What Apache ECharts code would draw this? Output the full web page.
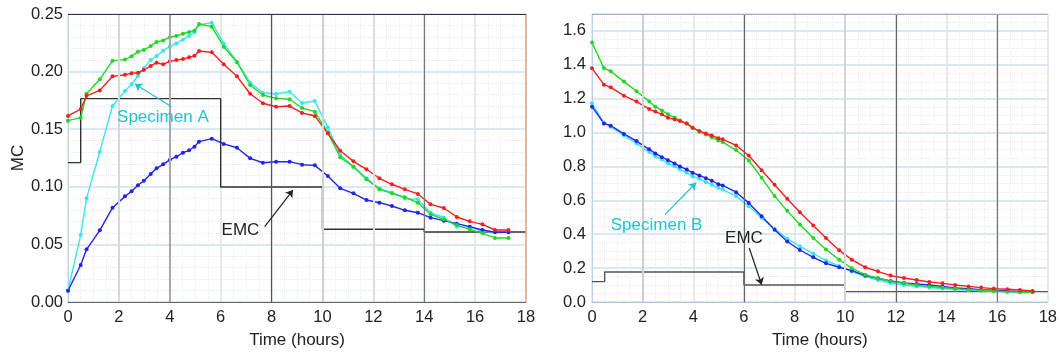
<!DOCTYPE html>
<html><head><meta charset="utf-8">
<script src="https://cdn.jsdelivr.net/npm/echarts@6/dist/echarts.min.js"></script>
<style>html,body{margin:0;padding:0;background:#fff}#c{width:1060px;height:356px}</style>
</head><body><div id="c"></div>
<script>
// ---------- Specimen A (left panel) ----------
const timeA = [0, 0.5, 0.73, 1.25, 1.75, 2.24, 2.5, 2.75, 2.98, 3.25, 3.48, 3.74, 4.0, 4.26, 4.52, 4.76, 4.97, 5.15, 5.65, 6.12, 6.64, 7.16, 7.66, 8.18, 8.71, 9.2, 9.7, 10.21, 10.7, 11.22, 11.73, 12.24, 12.73, 13.24, 13.75, 14.25, 14.77, 15.28, 15.79, 16.29, 16.78, 17.31];
const redA = [0.1615, 0.1675, 0.179, 0.1837, 0.1959, 0.1973, 0.1985, 0.199, 0.2014, 0.2049, 0.2077, 0.2063, 0.2089, 0.21, 0.2109, 0.2124, 0.2138, 0.2179, 0.2167, 0.2063, 0.1959, 0.1808, 0.1725, 0.1695, 0.1701, 0.1641, 0.1615, 0.1464, 0.1313, 0.1221, 0.1152, 0.1074, 0.1022, 0.0978, 0.0938, 0.0848, 0.0816, 0.0738, 0.07, 0.0674, 0.0625, 0.0625];
const greenA = [0.1574, 0.16, 0.1808, 0.1933, 0.2095, 0.2104, 0.2133, 0.2173, 0.2188, 0.2222, 0.2257, 0.2271, 0.2298, 0.2309, 0.2329, 0.2344, 0.2355, 0.2413, 0.239, 0.2216, 0.2081, 0.1884, 0.1797, 0.1768, 0.176, 0.1684, 0.1652, 0.147, 0.1256, 0.1175, 0.1065, 0.0978, 0.0943, 0.0909, 0.0862, 0.0761, 0.0718, 0.0668, 0.0631, 0.0596, 0.0556, 0.0556];
const cyanA = [0.01, 0.0582, 0.09, 0.1305, 0.1701, 0.1832, 0.189, 0.1962, 0.203, 0.21, 0.2135, 0.2182, 0.2216, 0.2245, 0.2277, 0.231, 0.2344, 0.2407, 0.2425, 0.2245, 0.2086, 0.1904, 0.1817, 0.1806, 0.1826, 0.1727, 0.1745, 0.1516, 0.1276, 0.1175, 0.1074, 0.0987, 0.0949, 0.0899, 0.0891, 0.0775, 0.0732, 0.0654, 0.065, 0.0613, 0.0605, 0.0605];
const blueA = [0.0098, 0.0321, 0.0457, 0.0622, 0.0819, 0.0917, 0.0961, 0.1013, 0.1053, 0.1111, 0.116, 0.1195, 0.1233, 0.1261, 0.1296, 0.1317, 0.1348, 0.1392, 0.1418, 0.1372, 0.1339, 0.1247, 0.1209, 0.1218, 0.1218, 0.1192, 0.1186, 0.1094, 0.0987, 0.0943, 0.0885, 0.0862, 0.0833, 0.0796, 0.0775, 0.0732, 0.0706, 0.068, 0.0654, 0.0625, 0.0605, 0.0605];
const emcTimeA = [0, 0.5, 6, 10, 14, 18];
const emcA = [0.121, 0.1765, 0.0998, 0.0631, 0.0608, 0.0608];

// ---------- Specimen B (right panel) ----------
const timeB = [0, 0.47, 0.74, 1.26, 1.76, 2.26, 2.5, 2.76, 3.0, 3.26, 3.47, 3.74, 3.97, 4.24, 4.5, 4.73, 4.99, 5.16, 5.69, 6.19, 6.7, 7.21, 7.71, 8.21, 8.74, 9.24, 9.76, 10.26, 10.79, 11.29, 11.79, 12.32, 12.82, 13.32, 13.84, 14.34, 14.87, 15.37, 15.87, 16.4, 16.9, 17.4];
const redB = [1.38, 1.283, 1.267, 1.218, 1.183, 1.139, 1.124, 1.108, 1.088, 1.078, 1.068, 1.053, 1.029, 1.009, 0.995, 0.983, 0.967, 0.96, 0.924, 0.865, 0.778, 0.692, 0.609, 0.53, 0.451, 0.378, 0.305, 0.25, 0.205, 0.181, 0.156, 0.142, 0.13, 0.118, 0.11, 0.1, 0.092, 0.085, 0.079, 0.075, 0.071, 0.065];
const greenB = [1.532, 1.381, 1.362, 1.301, 1.244, 1.184, 1.153, 1.131, 1.108, 1.088, 1.072, 1.054, 1.029, 1.005, 0.989, 0.973, 0.954, 0.944, 0.897, 0.835, 0.733, 0.625, 0.538, 0.457, 0.378, 0.31, 0.25, 0.199, 0.161, 0.14, 0.122, 0.11, 0.1, 0.092, 0.086, 0.079, 0.073, 0.069, 0.065, 0.061, 0.059, 0.059];
const cyanB = [1.173, 1.058, 1.035, 0.983, 0.936, 0.885, 0.861, 0.841, 0.818, 0.802, 0.782, 0.763, 0.743, 0.727, 0.707, 0.692, 0.674, 0.664, 0.625, 0.565, 0.497, 0.432, 0.374, 0.329, 0.285, 0.245, 0.212, 0.18, 0.15, 0.13, 0.112, 0.1, 0.093, 0.086, 0.08, 0.074, 0.07, 0.066, 0.063, 0.061, 0.059, 0.058];
const blueB = [1.153, 1.054, 1.041, 0.992, 0.95, 0.901, 0.877, 0.855, 0.837, 0.818, 0.8, 0.782, 0.763, 0.747, 0.731, 0.716, 0.695, 0.688, 0.648, 0.585, 0.506, 0.427, 0.357, 0.307, 0.264, 0.228, 0.205, 0.185, 0.156, 0.14, 0.124, 0.112, 0.106, 0.1, 0.092, 0.083, 0.079, 0.073, 0.069, 0.065, 0.061, 0.061];
const emcTimeB = [0, 0.5, 6, 10, 18];
const emcB = [0.12, 0.177, 0.10, 0.061, 0.061];

// ---------- labels ----------
const xTitle = 'Time (hours)';
const yTitleA = 'MC';
const labelA = 'Specimen A';
const labelB = 'Specimen B';
const labelEMC = 'EMC';

const FONT = "'Liberation Sans', Arial, sans-serif";
const TICK_FS = 16.5, TITLE_FS = 17;
const COL = {red: '#f41f1f', green: '#22d622', cyan: '#35e6ee', blue: '#2323ee', text: '#1fc4d4'};
const pairs = (t, v) => t.map((x, i) => [x, v[i]]);

function xAxisCfg(gi) {
  return {
    type: 'value', gridIndex: gi, min: 0, max: 18, interval: 2,
    name: xTitle, nameLocation: 'middle', nameGap: 30,
    nameTextStyle: {color: '#222', fontSize: TITLE_FS, fontFamily: FONT},
    axisLine: {show: true, lineStyle: {color: gi === 0 ? '#666' : '#aac4dc', width: 1}},
    axisTick: {show: false},
    axisLabel: {color: '#222', fontSize: TICK_FS, fontFamily: FONT, margin: 7},
    splitLine: {show: true, lineStyle: {color: '#e2e2e2', width: 1.5}},
    minorTick: {show: false, splitNumber: 4},
    minorSplitLine: {show: true, lineStyle: {color: '#ececec', type: 'dotted', width: 1}}
  };
}
function lineSeries(name, data, color, xi) {
  return {
    name, type: 'line', xAxisIndex: xi, yAxisIndex: xi, data,
    symbol: 'circle', symbolSize: 4, showSymbol: true,
    lineStyle: {color, width: 1.4}, itemStyle: {color}, z: 3, animation: false
  };
}
function vline(x, color, width) { return {xAxis: x, lineStyle: {color, width, type: 'solid'}}; }
function arrow(from, to, color) {
  return [{coord: from, lineStyle: {color, width: 1.2, type: 'solid'}}, {coord: to}];
}
function textPoint(coord, text, color) {
  return {coord, value: text, label: {show: true, formatter: text, color, fontSize: 17, fontFamily: FONT, position: 'inside'}};
}

const chart = echarts.init(document.getElementById('c'), null, {renderer: 'canvas'});
chart.setOption({
  animation: false,
  backgroundColor: '#fff',
  grid: [
    {left: 68, right: 534, top: 14, bottom: 54},
    {left: 592, right: 12, top: 14, bottom: 54}
  ],
  xAxis: [xAxisCfg(0), xAxisCfg(1)],
  yAxis: [
    {
      type: 'value', gridIndex: 0, min: 0, max: 0.25, interval: 0.05,
      name: yTitleA, nameLocation: 'middle', nameGap: 40, nameRotate: 90,
      nameTextStyle: {color: '#222', fontSize: TITLE_FS, fontFamily: FONT},
      axisLine: {show: true, lineStyle: {color: '#b8d4ec', width: 1}},
      axisTick: {show: false},
      axisLabel: {color: '#222', fontSize: TICK_FS, fontFamily: FONT, margin: 5, formatter: v => v.toFixed(2)},
      splitLine: {show: true, lineStyle: {color: '#cfe1f1', width: 1.5}},
      minorTick: {show: false, splitNumber: 5},
      minorSplitLine: {show: true, lineStyle: {color: '#e8e8e8', type: 'dotted', width: 1}}
    },
    {
      type: 'value', gridIndex: 1, min: 0, max: 1.7, interval: 0.2,
      axisLine: {show: true, lineStyle: {color: '#b8d4ec', width: 1}},
      axisTick: {show: false},
      axisLabel: {color: '#222', fontSize: TICK_FS, fontFamily: FONT, margin: 6, showMaxLabel: false, formatter: v => v.toFixed(1)},
      splitLine: {show: true, lineStyle: {color: '#cfe1f1', width: 1.5}},
      minorTick: {show: false, splitNumber: 4},
      minorSplitLine: {show: true, lineStyle: {color: '#e8e8e8', type: 'dotted', width: 1}}
    }
  ],
  series: [
    {
      name: 'EMC A', type: 'line', xAxisIndex: 0, yAxisIndex: 0, step: 'end',
      data: pairs(emcTimeA, emcA), symbol: 'none',
      lineStyle: {color: '#333', width: 1.4}, z: 2, silent: true,
      markLine: {
        silent: true, symbol: 'none', label: {show: false}, animation: false,
        data: [
          vline(2, '#d8d8d8', 2), vline(4, '#a8a8a8', 2), vline(8, '#555', 1.2),
          vline(10, '#d0d0d0', 2), vline(12, '#dcdcdc', 2), vline(14, '#777', 1.2),
          vline(18, '#e8a486', 1.5),
          {yAxis: 0.25, lineStyle: {color: '#333', width: 1.2, type: 'solid'}}
        ]
      }
    },
    {
      name: 'EMC B', type: 'line', xAxisIndex: 1, yAxisIndex: 1, step: 'end',
      data: pairs(emcTimeB, emcB), symbol: 'none',
      lineStyle: {color: '#555', width: 1.4}, z: 2, silent: true,
      markLine: {
        silent: true, symbol: 'none', label: {show: false}, animation: false,
        data: [
          vline(2, '#cfcfcf', 2), vline(6, '#666', 1.2), vline(10, '#d4d4d4', 2),
          vline(12, '#666', 1.2), vline(16, '#777', 1.2),
          {yAxis: 1.7, lineStyle: {color: '#aaa', width: 1.2, type: 'solid'}}
        ]
      }
    },
    lineSeries('A cyan', pairs(timeA, cyanA), COL.cyan, 0),
    lineSeries('A blue', pairs(timeA, blueA), COL.blue, 0),
    lineSeries('A green', pairs(timeA, greenA), COL.green, 0),
    lineSeries('A red', pairs(timeA, redA), COL.red, 0),
    lineSeries('B cyan', pairs(timeB, cyanB), COL.cyan, 1),
    lineSeries('B blue', pairs(timeB, blueB), COL.blue, 1),
    lineSeries('B green', pairs(timeB, greenB), COL.green, 1),
    lineSeries('B red', pairs(timeB, redB), COL.red, 1),
    {
      name: 'annot A', type: 'scatter', xAxisIndex: 0, yAxisIndex: 0, data: [], silent: true, z: 5,
      markLine: {
        silent: true, symbol: ['none', 'arrow'], symbolSize: 7, label: {show: false}, animation: false,
        data: [arrow([4.07, 0.1695], [2.63, 0.1892], '#20c0d0'), arrow([7.73, 0.0654], [8.84, 0.0972], '#222')]
      },
      markPoint: {
        symbol: 'rect', symbolSize: 1, itemStyle: {color: 'rgba(0,0,0,0)'}, animation: false,
        data: [textPoint([3.73, 0.1606], labelA, COL.text), textPoint([6.78, 0.0625], labelEMC, '#222')]
      }
    },
    {
      name: 'annot B', type: 'scatter', xAxisIndex: 1, yAxisIndex: 1, data: [], silent: true, z: 5,
      markLine: {
        silent: true, symbol: ['none', 'arrow'], symbolSize: 7, label: {show: false}, animation: false,
        data: [arrow([2.88, 0.516], [4.11, 0.704], '#20c0d0'), arrow([6.21, 0.319], [6.7, 0.102], '#222')]
      },
      markPoint: {
        symbol: 'rect', symbolSize: 1, itemStyle: {color: 'rgba(0,0,0,0)'}, animation: false,
        data: [textPoint([2.55, 0.451], labelB, COL.text), textPoint([6.0, 0.378], labelEMC, '#222')]
      }
    }
  ]
});
</script>
</body></html>
